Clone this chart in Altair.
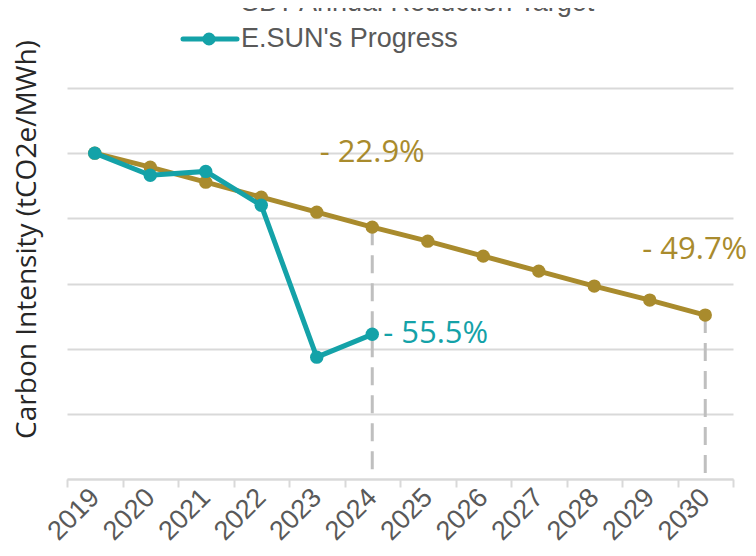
import altair as alt
import pandas as pd

# ---- data ----
years = ["2019", "2020", "2021", "2022", "2023", "2024",
         "2025", "2026", "2027", "2028", "2029", "2030"]
target = [5.0, 4.785, 4.555, 4.325, 4.095, 3.865, 3.65, 3.42, 3.19, 2.96, 2.745, 2.515]
progress_years = ["2019", "2020", "2021", "2022", "2023", "2024"]
progress = [5.0, 4.66, 4.72, 4.20, 1.87, 2.22]
series = ["SBT Annual Reduction Target", "E.SUN's Progress"]
dash_years = ["2024", "2030"]
label_years = ["2024", "2030", "2024"]
label_values = [5.0, 3.51, 2.22]
label_texts = ["- 22.9%", "- 49.7%", "- 55.5%"]
y_grid = [0, 1, 2, 3, 4, 5, 6]

GOLD = "#A98B2D"
TEAL = "#14A2A8"
GRID = "#D9D9D9"
DASH = "#BFBFBF"
TXT = "#595959"

target_df = pd.DataFrame({"year": years, "value": target, "series": series[0]})
prog_df = pd.DataFrame({"year": progress_years, "value": progress, "series": series[1]})
dash_df = target_df[target_df["year"].isin(dash_years)].reset_index(drop=True)
labels_df = pd.DataFrame({"year": label_years, "value": label_values, "text": label_texts})

x_enc = alt.X(
    "year:O",
    bandPosition=0.5,
    scale=alt.Scale(type="band", domain=years, paddingInner=0, paddingOuter=0),
    axis=alt.Axis(
        title=None, grid=False, labelAngle=315, labelAlign="right", labelBaseline="middle",
        labelFont="Liberation Sans", labelFontSize=27, labelColor=TXT, labelPadding=6,
        tickBand="extent", tickColor=GRID, tickWidth=2, tickSize=8,
        domainColor=GRID, domainWidth=2,
    ),
)
y_enc = alt.Y(
    "value:Q",
    scale=alt.Scale(domain=[0, 6], nice=False, zero=True),
    axis=alt.Axis(
        title="Carbon Intensity (tCO2e/MWh)", values=y_grid, labels=False, ticks=False,
        domain=False, grid=True, gridColor=GRID, gridWidth=2,
        titleFont="Open Sans", titleFontSize=28, titleFontWeight="normal", titleColor="#262626",
        titleAngle=270, titleAlign="center", titleBaseline="middle", titleX=-40, titleY=151,
    ),
)

dashes = alt.Chart(dash_df).mark_rule(color=DASH, strokeWidth=3, strokeDash=[18, 10]).encode(
    x=x_enc, y="value:Q", y2=alt.datum(0)
)

t_line = alt.Chart(target_df).mark_line(color=GOLD, strokeWidth=5).encode(x=x_enc, y=y_enc)
t_pts = alt.Chart(target_df).mark_point(filled=True, size=180, color=GOLD, opacity=1).encode(
    x=x_enc, y="value:Q"
)
p_line = alt.Chart(prog_df).mark_line(color=TEAL, strokeWidth=5).encode(x=x_enc, y="value:Q")
p_pts = alt.Chart(prog_df).mark_point(filled=True, size=180, color=TEAL, opacity=1).encode(
    x=x_enc, y="value:Q"
)

label_styles = [("center", 0, GOLD), ("right", 42, GOLD), ("left", 11, TEAL)]
label_layers = []
for i, (al, dx, col) in enumerate(label_styles):
    label_layers.append(
        alt.Chart(labels_df.iloc[[i]]).mark_text(
            align=al, dx=dx, baseline="middle", font="Open Sans", fontSize=31, color=col
        ).encode(x=x_enc, y="value:Q", text="text:N")
    )

# manual legend (top, partially cut like the reference)
leg = []
for name, col, ly, sy in [(series[0], GOLD, -85, -92), (series[1], TEAL, -49, -49)]:
    d = pd.DataFrame({"name": [name]})
    leg.append(alt.Chart(d).mark_rule(color=col, strokeWidth=5, strokeCap="round").encode(
        x=alt.value(116), x2=alt.value(170), y=alt.value(sy)))
    leg.append(alt.Chart(d).mark_point(filled=True, size=170, color=col, opacity=1).encode(
        x=alt.value(142), y=alt.value(sy)))
    leg.append(alt.Chart(d).mark_text(align="left", baseline="middle", font="Liberation Sans",
                                      fontSize=27, color=TXT).encode(
        x=alt.value(174), y=alt.value(ly), text="name:N"))

chart = alt.layer(dashes, t_line, t_pts, p_line, p_pts, *label_layers, *leg).properties(
    width=666, height=391,
    autosize=alt.AutoSizeParams(type="none"),
    padding={"left": 59, "top": 80, "right": 15, "bottom": 69},
    background="white",
).configure_view(stroke=None)

chart.save("out.html", embed_options={"renderer": "svg", "actions": False})
